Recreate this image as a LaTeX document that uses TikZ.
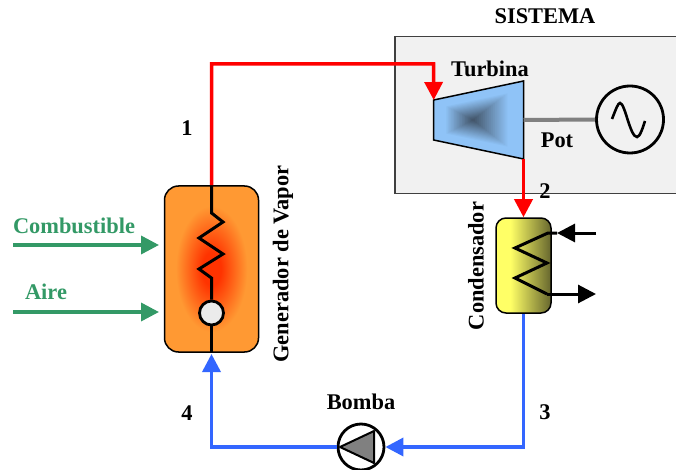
\documentclass[tikz,border=0pt]{standalone}
\usepackage{fontspec}
\setmainfont{Liberation Serif}
\usetikzlibrary{arrows.meta,calc}
\definecolor{steamred}{HTML}{FF0000}
\definecolor{waterblue}{HTML}{3366FF}
\definecolor{feedgreen}{HTML}{339966}
\definecolor{sysgray}{HTML}{F1F1F1}
\definecolor{turbblue}{HTML}{8FC3F7}
\definecolor{turbdark}{HTML}{3F5063}
\definecolor{genorange}{HTML}{FF9933}
\definecolor{genred}{HTML}{FF3300}
\definecolor{condlight}{HTML}{FFFF66}
\definecolor{conddark}{HTML}{66662E}
\pgfdeclareradialshading{genshade}{\pgfpoint{0bp}{0bp}}{%
  color(0bp)=(genred);color(5bp)=(genred);color(19bp)=(genorange);color(50bp)=(genorange)}
\pgfdeclarehorizontalshading{condshade}{100bp}{%
  color(0bp)=(condlight);color(38bp)=(condlight);color(75bp)=(conddark);color(100bp)=(conddark)}
\tikzset{
  lbl/.style={font=\fontsize{22.4}{24}\selectfont\bfseries,inner sep=0pt},
  grn/.style={lbl,text=feedgreen},
  pipe/.style={line width=3.5pt,-{Triangle[length=18pt,width=18pt]}},
  redpipe/.style={pipe,draw=steamred},
  bluepipe/.style={pipe,draw=waterblue},
  feed/.style={pipe,draw=feedgreen},
  blk/.style={line width=3pt,-{Triangle[length=18pt,width=18pt]},draw=black},
  coil/.style={line width=3pt,draw=black,line join=miter},
  unit/.style={draw=black,line width=1.5pt,rounded corners=14pt,inner sep=0pt},
  ring/.style={circle,draw=black,line width=2.8pt,inner sep=0pt}
}
\begin{document}
\begin{tikzpicture}[x=1pt,y=-1pt]
\useasboundingbox (0,0) rectangle (676,470);
% system envelope
\node[draw=black!75,line width=1.5pt,fill=sysgray,minimum width=290pt,minimum height=157pt,inner sep=0pt,anchor=north west] (sys) at (394,36) {};
\node[lbl] (systxt) at (545,16) {SISTEMA};
% turbine
\coordinate (ta) at (433.7,100);
\coordinate (tb) at (523.5,81);
\coordinate (tc) at (523.5,159);
\coordinate (td) at (433.7,140);
\coordinate (te) at (473,120);
\foreach \t in {1,0.96,...,0.03}{
  \pgfmathsetmacro{\pct}{max(0,min(100,100*(1-\t/0.72)))}
  \fill[turbdark!\pct!turbblue] ($(te)!\t!(ta)$) -- ($(te)!\t!(tb)$) -- ($(te)!\t!(tc)$) -- ($(te)!\t!(td)$) -- cycle;
}
\draw[black,line width=1.5pt,line join=miter] (ta) -- (tb) -- (tc) -- (td) -- cycle;
\node[lbl] (turbtxt) at (490,69) {Turbina};
% generator and shaft
\node[ring,minimum size=67pt] (elec) at (630,119.5) {};
\coordinate (shaftstart) at (523.5,120);
\draw[line width=4pt,draw=black!50] (shaftstart) -- (elec.west);
\draw[line width=2.6pt,black] (612,119) .. controls (616,109) and (618,103) .. (620,103) .. controls (625,103) and (630,137) .. (637,137) .. controls (640,137) and (643,127) .. (645,121);
\node[lbl] (pottxt) at (557,140) {Pot};
% steam generator
\node[unit,shading=genshade,minimum width=94pt,minimum height=166pt] (gen) at (211.5,269) {};
\node[ring,fill=black!8,minimum size=24pt] (burner) at (211.5,313) {};
\coordinate (coiltop) at (211.5,213);
\draw[coil] (gen.north) -- (coiltop) -- (223,222) -- (199,238) -- (223,254) -- (199,269) -- (211.5,278) -- (burner.north);
\draw[coil] (burner.south) -- (gen.south);
% condenser
\node[unit,rounded corners=10pt,shading=condshade,minimum width=55pt,minimum height=95pt] (cond) at (523.5,265.5) {};
\coordinate (cin) at (596,233);
\coordinate (cout) at (596,294);
\coordinate (cinb) at (548,233);
\coordinate (coutb) at (547,294);
\draw[blk] (cin) -- (557,233);
\draw[coil] (557,233) -- (cinb) -- (515,248) -- (547,263) -- (515,278) -- (coutb);
\draw[blk] (coutb) -- (cout);
% pump
\node[ring,minimum size=46pt] (pump) at (361,447) {};
\draw[black,line width=2pt,fill=black!50,line join=round] (340,447) -- (374,431) -- (374,463) -- cycle;
% main pipes
\draw[redpipe] (gen.north) |- (433.5,64) -- (ta);
\draw[redpipe] (tc) -- (cond.north);
\draw[bluepipe] (cond.south) |- (pump.east);
\draw[bluepipe] (pump.west) -| (211.5,354);
% feeds
\coordinate (fuel) at (13,245);
\coordinate (air) at (13,312);
\draw[feed] (fuel) -- (159,245);
\draw[feed] (air) -- (159,312);
\node[grn] (fueltxt) at (74,226) {Combustible};
\node[grn] (airtxt) at (46,292) {Aire};
% labels
\node[lbl,rotate=90] (gentxt) at (283,264) {Generador de Vapor};
\node[lbl,rotate=90] (condtxt) at (476,266) {Condensador};
\node[lbl] (bombatxt) at (361,402) {Bomba};
\node[lbl] (n1) at (187,128) {1};
\node[lbl] (n2) at (545,191) {2};
\node[lbl] (n3) at (545,412) {3};
\node[lbl] (n4) at (187,413) {4};
\end{tikzpicture}
\end{document}
